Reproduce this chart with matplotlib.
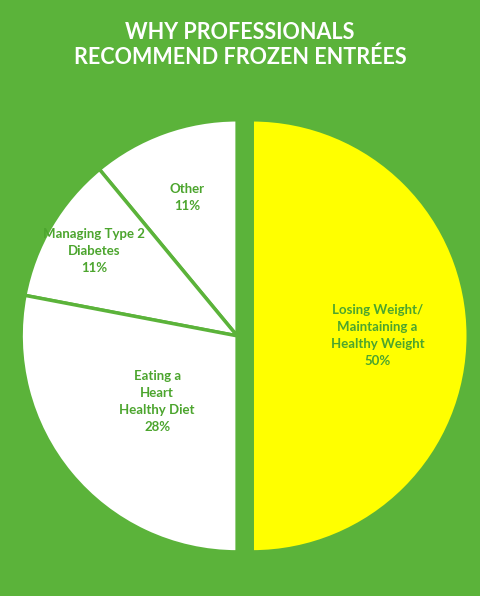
import numpy as np
import matplotlib.pyplot as plt

labels = ["Other\n11%", "Managing Type 2\nDiabetes\n11%",
          "Eating a\nHeart\nHealthy Diet\n28%",
          "Losing Weight/\nMaintaining a\nHealthy Weight\n50%"]
shares = [11, 11, 28, 50]
colors = ["white", "white", "white", "#ffff00"]
explode = [0, 0, 0, 0.07]
label_r = [0.68, 0.77, 0.48, 0.58]

green = "#5bb33a"
fig = plt.figure(figsize=(4.8, 5.96), dpi=100)
fig.patch.set_facecolor(green)
ax = fig.add_axes([0.044, 0.074, 0.9, 0.725])
wedges, _ = ax.pie(shares, colors=colors, explode=explode, startangle=90,
                   counterclock=True,
                   wedgeprops=dict(edgecolor=green, linewidth=2.5))
for w, lab, r, ex in zip(wedges, labels, label_r, explode):
	mid = np.deg2rad((w.theta1 + w.theta2) / 2)
	rr = r + ex
	ax.text(rr * np.cos(mid), rr * np.sin(mid), lab, ha="center", va="center",
	        color="#4ca52e", fontsize=9.5, fontweight="bold", family="Lato",
	        linespacing=1.5)
ax.set_aspect("auto")
ax.set_xlim(-1, 1)
ax.set_ylim(-1, 1)

fig.text(0.5, 0.925, "WHY PROFESSIONALS\nRECOMMEND FROZEN ENTRÉES", ha="center",
         va="center", color="white", fontsize=15.5, fontweight="bold",
         family="Lato", linespacing=1.2)
fig.savefig("out.png", facecolor=green)
